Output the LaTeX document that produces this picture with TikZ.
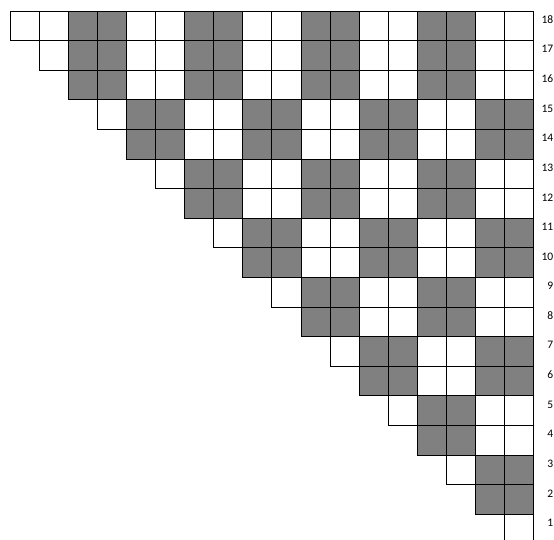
\documentclass[tikz,border=0pt]{standalone}
\usepackage{fontspec}
\setmainfont{Carlito}
\usepackage{tikz}

\begin{document}
\begin{tikzpicture}[x=1pt,y=1pt,
  cell/.style={draw,line width=0.8pt,inner sep=0pt,minimum width=29.1pt,minimum height=29.6pt,anchor=north west},
  lab/.style={anchor=east,inner sep=0pt,font=\fontsize{11.5}{14}\selectfont}]
\useasboundingbox (0,0) rectangle (554,540);
\clip (0,0) rectangle (554,540);
% row label / column where the grey pairs start (mod 4)
\foreach \L/\s in {18/2,17/2,16/2,15/0,14/0,13/2,12/2,11/0,10/0,9/2,8/2,7/0,6/0,5/2,4/2,3/0,2/0,1/2} {
  \pgfmathtruncatemacro\i{18-\L}
  \foreach \j in {\i,...,17} {
    \pgfmathtruncatemacro\g{mod(\j-\s+4,4)<2}
    \ifnum\g=1 \def\col{gray}\else\def\col{white}\fi
    \node[cell,fill=\col] (c-\L-\j) at (9.5+29.1*\j,529.3-29.6*\i) {};
  }
  \node[lab] (l-\L) at (553.5,529.3-29.6*\i-9) {\L};
}
\end{tikzpicture}
\end{document}
